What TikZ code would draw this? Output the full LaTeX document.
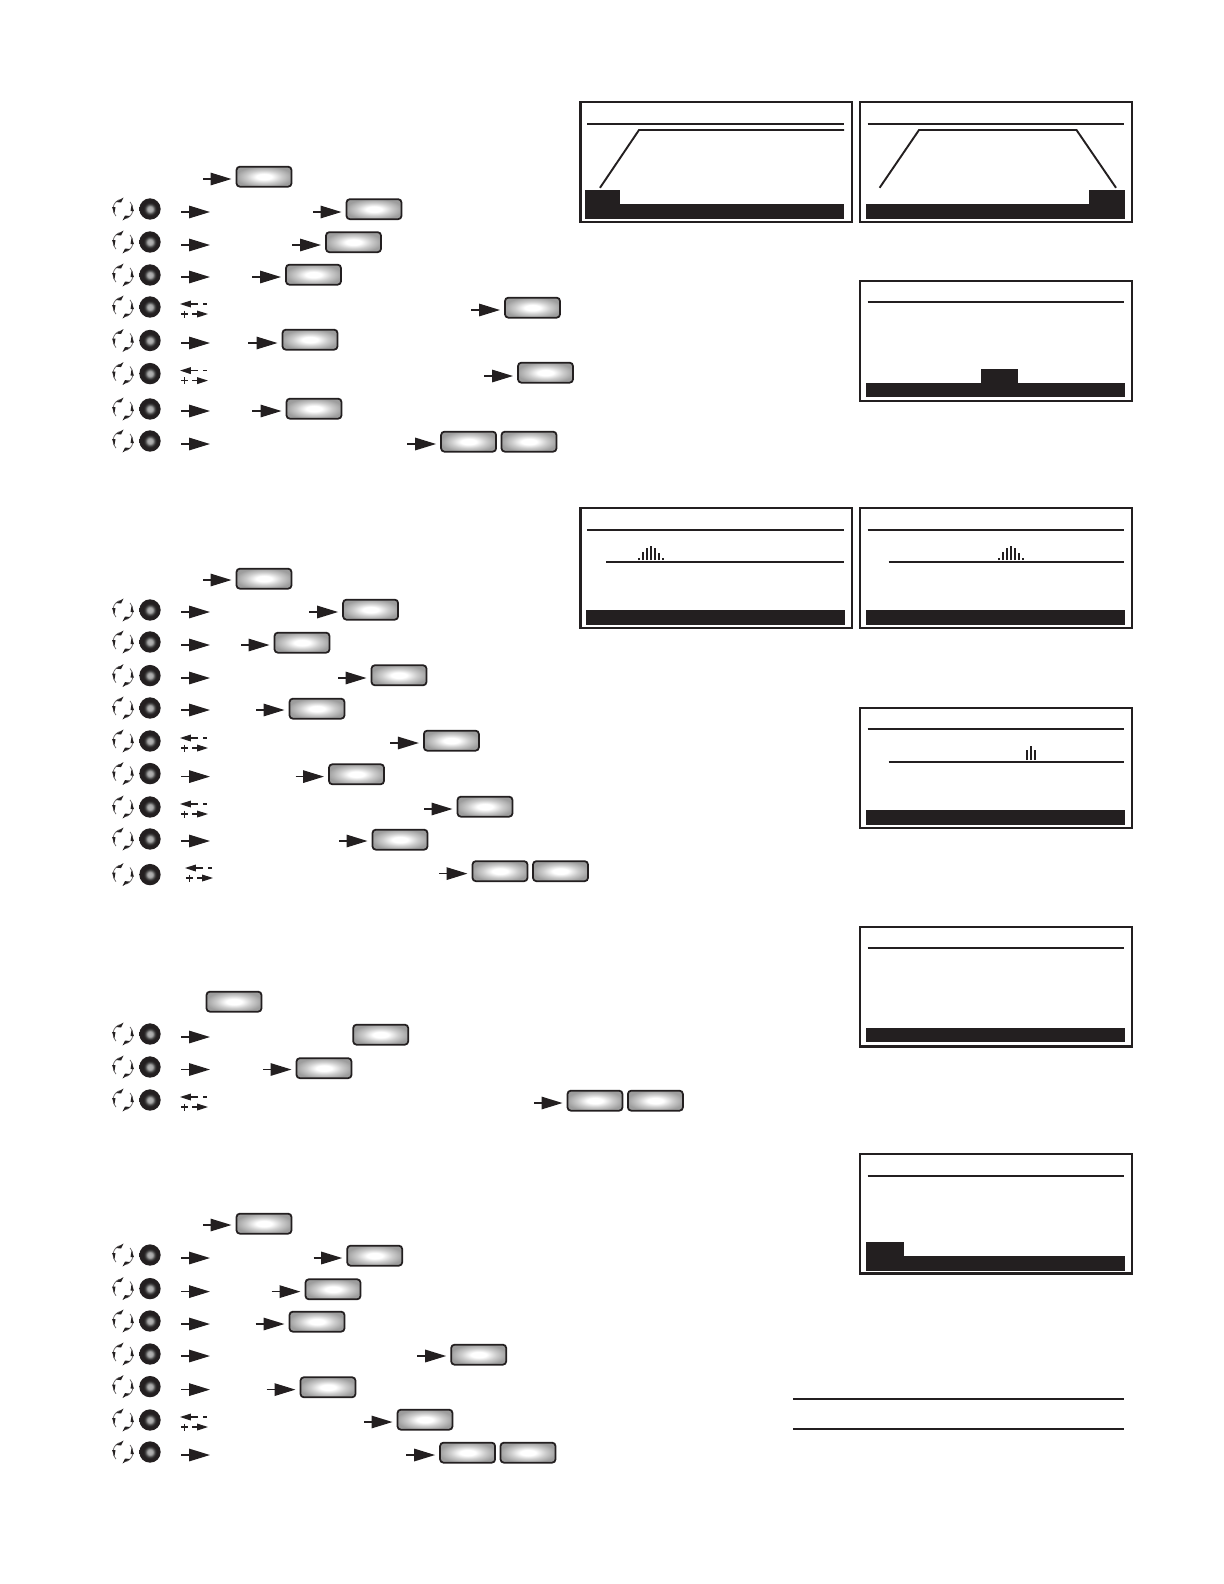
\documentclass[tikz,border=0pt]{standalone}
\usetikzlibrary{arrows.meta}
\definecolor{ink}{RGB}{35,31,32}
\pgfdeclareradialshading{btnglow}{\pgfpoint{0bp}{0bp}}{color(0bp)=(white); color(7bp)=(white); color(16bp)=(black!20); color(26bp)=(black!38); color(50bp)=(black!45)}
\pgfdeclareradialshading{dialglow}{\pgfpoint{0bp}{0bp}}{color(0bp)=(black!30); color(6bp)=(black!34); color(11bp)=(black!72); color(15bp)=(ink); color(50bp)=(ink)}
\tikzset{
    btn/.style={draw=ink,line width=1.05pt,rounded corners=2pt,shading=btnglow,minimum width=33pt,minimum height=12pt,inner sep=0pt,outer sep=3pt,yshift=-.4pt},
    pointer/.style={ink,line width=.9pt,-{Triangle[length=12.6pt,width=7.5pt]}},
    smallpointer/.style={ink,line width=.7pt,-{Triangle[length=6.5pt,width=4pt]}},
    turnarc/.style={ink!70,line width=.45pt},
    frame/.style={ink,line width=1.25pt},
    rule/.style={ink,line width=1.15pt},
    solid block/.style={fill=ink,draw=none},
    dial/.pic={
        \draw[turnarc] (-30.4,-8.4) arc[start angle=110,end angle=225,radius=6pt];
        \draw[turnarc] (-23.6,10.4) arc[start angle=-70,end angle=45,radius=6pt];
        \fill[ink] (-34,-6) -- (-29,-5.5) -- (-26.5,-10.5) -- cycle;
        \fill[ink] (-20,8) -- (-25,7.5) -- (-27.5,12.5) -- cycle;
        \fill[ink] (-38,-1) -- (-34.5,-1) -- (-35.5,5) -- cycle;
        \fill[ink] (-16,3) -- (-19.5,3) -- (-18.5,-3) -- cycle;
        \shade[shading=dialglow] (0,1) circle[radius=6.4pt];
    },
    stub/.pic={
        \draw[pointer] (0,0) -- (29,0);
    },
    updown/.pic={
        \draw[smallpointer] (18,0) -- (0,0);
        \draw[ink,line width=.7pt] (23,0) -- (27,0);
        \draw[ink,line width=.7pt] (1,10) -- (8,10);
        \draw[ink,line width=.7pt] (4.5,6.5) -- (4.5,13.5);
        \draw[smallpointer] (12,10) -- (28,10);
    },
}

\begin{document}
\begin{tikzpicture}[x=.6pt,y=-.6pt]
    \useasboundingbox (0,0) rectangle (1224,1584);

    % screens, top row
    \draw[frame] (580.5,101.7) rectangle (852,221.7);
    \draw[rule] (587,123.7) -- (844,123.7);
    \draw[rule] (600,187.8) -- (639,130) -- (844,130);
    \fill[solid block] (585,204) rectangle (844,219);
    \fill[solid block] (585,190) rectangle (620,204);

    \draw[frame] (860.4,101.7) rectangle (1132,221.7);
    \draw[rule] (867.5,123.7) -- (1124,123.7);
    \draw[rule] (879.6,187.8) -- (919,130) -- (1076.5,130) -- (1116,187.8);
    \fill[solid block] (865.5,204) rectangle (1125,219);
    \fill[solid block] (1088.7,190) rectangle (1125,204);

    \draw[frame] (860.4,280.7) rectangle (1132,401);
    \draw[rule] (867.5,302) -- (1124,302);
    \fill[solid block] (865.5,382.7) rectangle (1125,397);
    \fill[solid block] (980.6,368.6) rectangle (1018,382.7);

    % screens, spectrum
    \draw[frame] (580.5,507.7) rectangle (852,628);
    \draw[rule] (587,530) -- (844,530);
    \draw[rule] (606,562) -- (844,562);
    \draw[ink,line width=1.2pt] (638.7,560) -- (638.7,557.5);
    \draw[ink,line width=1.2pt] (642.6,560) -- (642.6,552);
    \draw[ink,line width=1.2pt] (646.6,560) -- (646.6,548);
    \draw[ink,line width=1.2pt] (651,560) -- (651,546);
    \draw[ink,line width=1.2pt] (655,560) -- (655,548);
    \draw[ink,line width=1.2pt] (659,560) -- (659,553);
    \draw[ink,line width=1.2pt] (663,560) -- (663,557.5);
    \fill[solid block] (586,610) rectangle (845,625);

    \draw[frame] (860.4,507.7) rectangle (1132,628);
    \draw[rule] (867.5,530) -- (1124,530);
    \draw[rule] (888.7,562) -- (1124,562);
    \draw[ink,line width=1.2pt] (998.7,560) -- (998.7,557.5);
    \draw[ink,line width=1.2pt] (1002.6,560) -- (1002.6,552);
    \draw[ink,line width=1.2pt] (1006.6,560) -- (1006.6,548);
    \draw[ink,line width=1.2pt] (1011,560) -- (1011,546);
    \draw[ink,line width=1.2pt] (1015,560) -- (1015,548);
    \draw[ink,line width=1.2pt] (1019,560) -- (1019,553);
    \draw[ink,line width=1.2pt] (1023,560) -- (1023,557.5);
    \fill[solid block] (865.5,610) rectangle (1125,625);

    \draw[frame] (860.4,708) rectangle (1132,828);
    \draw[rule] (867.5,729.4) -- (1124,729.4);
    \draw[rule] (888.7,761.9) -- (1124,761.9);
    \draw[ink,line width=1.2pt] (1027,760) -- (1027,750);
    \draw[ink,line width=1.2pt] (1031,760) -- (1031,746);
    \draw[ink,line width=1.2pt] (1035,760) -- (1035,750);
    \fill[solid block] (865.5,810) rectangle (1125,825);

    % screens, lower
    \draw[frame] (860.4,927.4) rectangle (1132,1046.5);
    \draw[rule] (867.5,947.8) -- (1124,947.8);
    \fill[solid block] (865.5,1028) rectangle (1125,1042);

    \draw[frame] (860.4,1153.8) rectangle (1132,1273.5);
    \draw[rule] (867.5,1176) -- (1124,1176);
    \fill[solid block] (865.5,1255.5) rectangle (1125,1270.5);
    \fill[solid block] (865.5,1241.5) rectangle (904,1255.5);

    \draw[rule] (793,1398.7) -- (1124,1398.7);
    \draw[rule] (793,1429) -- (1124,1429);

    % first block
    \node[btn] (bA0) at (264,176) {};
    \coordinate (sA0) at (203,179);
    \draw[pointer] (sA0) -- (sA0 -| bA0.west);

    \pic at (150,208) {dial};
    \pic at (181,212) {stub};
    \node[btn] (bA1) at (374,208.5) {};
    \coordinate (sA1) at (313,212);
    \draw[pointer] (sA1) -- (sA1 -| bA1.west);

    \pic at (150,241) {dial};
    \pic at (181,245) {stub};
    \node[btn] (bA2) at (353.5,241.5) {};
    \coordinate (sA2) at (292,245);
    \draw[pointer] (sA2) -- (sA2 -| bA2.west);

    \pic at (150,274) {dial};
    \pic at (181,277) {stub};
    \node[btn] (bA3) at (313.5,274) {};
    \coordinate (sA3) at (252,277);
    \draw[pointer] (sA3) -- (sA3 -| bA3.west);

    \pic at (150,306) {dial};
    \pic at (180,304) {updown};
    \node[btn] (bA4) at (532.5,307) {};
    \coordinate (sA4) at (471,310);
    \draw[pointer] (sA4) -- (sA4 -| bA4.west);

    \pic at (150,339.5) {dial};
    \pic at (181,343) {stub};
    \node[btn] (bA5) at (310,339) {};
    \coordinate (sA5) at (248,343);
    \draw[pointer] (sA5) -- (sA5 -| bA5.west);

    \pic at (150,372.6) {dial};
    \pic at (180,370.6) {updown};
    \node[btn] (bA6) at (545.5,372) {};
    \coordinate (sA6) at (484,376);
    \draw[pointer] (sA6) -- (sA6 -| bA6.west);

    \pic at (150,408) {dial};
    \pic at (181,411) {stub};
    \node[btn] (bA7) at (314,408) {};
    \coordinate (sA7) at (252,411);
    \draw[pointer] (sA7) -- (sA7 -| bA7.west);

    \pic at (150,440) {dial};
    \pic at (181,444) {stub};
    \node[btn] (bA8) at (468.6,441) {};
    \node[btn] (bA9) at (529,441) {};
    \coordinate (sA8) at (407,444);
    \draw[pointer] (sA8) -- (sA8 -| bA8.west);

    % second block
    \node[btn] (bB0) at (264,578) {};
    \coordinate (sB0) at (203,580);
    \draw[pointer] (sB0) -- (sB0 -| bB0.west);

    \pic at (150,609) {dial};
    \pic at (181,612) {stub};
    \node[btn] (bB1) at (370.6,609) {};
    \coordinate (sB1) at (309,612);
    \draw[pointer] (sB1) -- (sB1 -| bB1.west);

    \pic at (150,641) {dial};
    \pic at (181,645) {stub};
    \node[btn] (bB2) at (302,642) {};
    \coordinate (sB2) at (241,645);
    \draw[pointer] (sB2) -- (sB2 -| bB2.west);

    \pic at (150,674.6) {dial};
    \pic at (181,678) {stub};
    \node[btn] (bB3) at (399,674.6) {};
    \coordinate (sB3) at (338,678);
    \draw[pointer] (sB3) -- (sB3 -| bB3.west);

    \pic at (150,707) {dial};
    \pic at (181,710) {stub};
    \node[btn] (bB4) at (317,708) {};
    \coordinate (sB4) at (256,710);
    \draw[pointer] (sB4) -- (sB4 -| bB4.west);

    \pic at (150,740) {dial};
    \pic at (180,738) {updown};
    \node[btn] (bB5) at (451.4,740) {};
    \coordinate (sB5) at (390,743);
    \draw[pointer] (sB5) -- (sB5 -| bB5.west);

    \pic at (150,772.6) {dial};
    \pic at (181,776.6) {stub};
    \node[btn] (bB6) at (356.5,773.6) {};
    \coordinate (sB6) at (295.5,776.6);
    \draw[pointer] (sB6) -- (sB6 -| bB6.west);

    \pic at (150,806) {dial};
    \pic at (180,804) {updown};
    \node[btn] (bB7) at (485,806) {};
    \coordinate (sB7) at (424,809);
    \draw[pointer] (sB7) -- (sB7 -| bB7.west);

    \pic at (150,838) {dial};
    \pic at (181,841) {stub};
    \node[btn] (bB8) at (400,839) {};
    \coordinate (sB8) at (339,841);
    \draw[pointer] (sB8) -- (sB8 -| bB8.west);

    \pic at (150,873.6) {dial};
    \pic at (185,868) {updown};
    \node[btn] (bB9) at (500,870.5) {};
    \node[btn] (bB10) at (560.5,870.5) {};
    \coordinate (sB9) at (439,873.6);
    \draw[pointer] (sB9) -- (sB9 -| bB9.west);

    % third block
    \node[btn] (bC0) at (234,1001) {};

    \pic at (150,1033) {dial};
    \pic at (181,1037) {stub};
    \node[btn] (bC1) at (380.7,1034) {};

    \pic at (150,1066) {dial};
    \pic at (181,1069.5) {stub};
    \node[btn] (bC2) at (324,1067.5) {};
    \coordinate (sC2) at (263,1069.5);
    \draw[pointer] (sC2) -- (sC2 -| bC2.west);

    \pic at (150,1099) {dial};
    \pic at (180,1097) {updown};
    \node[btn] (bC3) at (595,1100) {};
    \node[btn] (bC4) at (655.4,1100) {};
    \coordinate (sC3) at (534,1103);
    \draw[pointer] (sC3) -- (sC3 -| bC3.west);

    % fourth block
    \node[btn] (bD0) at (264,1223) {};
    \coordinate (sD0) at (203,1225);
    \draw[pointer] (sD0) -- (sD0 -| bD0.west);

    \pic at (150,1254) {dial};
    \pic at (181,1258) {stub};
    \node[btn] (bD1) at (374.7,1255) {};
    \coordinate (sD1) at (313.7,1258);
    \draw[pointer] (sD1) -- (sD1 -| bD1.west);

    \pic at (150,1287.6) {dial};
    \pic at (181,1291.6) {stub};
    \node[btn] (bD2) at (333,1288.6) {};
    \coordinate (sD2) at (271.7,1291.6);
    \draw[pointer] (sD2) -- (sD2 -| bD2.west);

    \pic at (150,1320) {dial};
    \pic at (181,1324) {stub};
    \node[btn] (bD3) at (317,1321) {};
    \coordinate (sD3) at (255.5,1324);
    \draw[pointer] (sD3) -- (sD3 -| bD3.west);

    \pic at (150,1353) {dial};
    \pic at (181,1356) {stub};
    \node[btn] (bD4) at (478.7,1354) {};
    \coordinate (sD4) at (417,1356);
    \draw[pointer] (sD4) -- (sD4 -| bD4.west);

    \pic at (150,1385.6) {dial};
    \pic at (181,1389.6) {stub};
    \node[btn] (bD5) at (328,1386.6) {};
    \coordinate (sD5) at (266.6,1389.6);
    \draw[pointer] (sD5) -- (sD5 -| bD5.west);

    \pic at (150,1419) {dial};
    \pic at (180,1417) {updown};
    \node[btn] (bD6) at (425,1419) {};
    \coordinate (sD6) at (364,1422);
    \draw[pointer] (sD6) -- (sD6 -| bD6.west);

    \pic at (150,1451) {dial};
    \pic at (181,1455) {stub};
    \node[btn] (bD7) at (467.6,1452) {};
    \node[btn] (bD8) at (528,1452) {};
    \coordinate (sD7) at (406,1455);
    \draw[pointer] (sD7) -- (sD7 -| bD7.west);
\end{tikzpicture}
\end{document}
